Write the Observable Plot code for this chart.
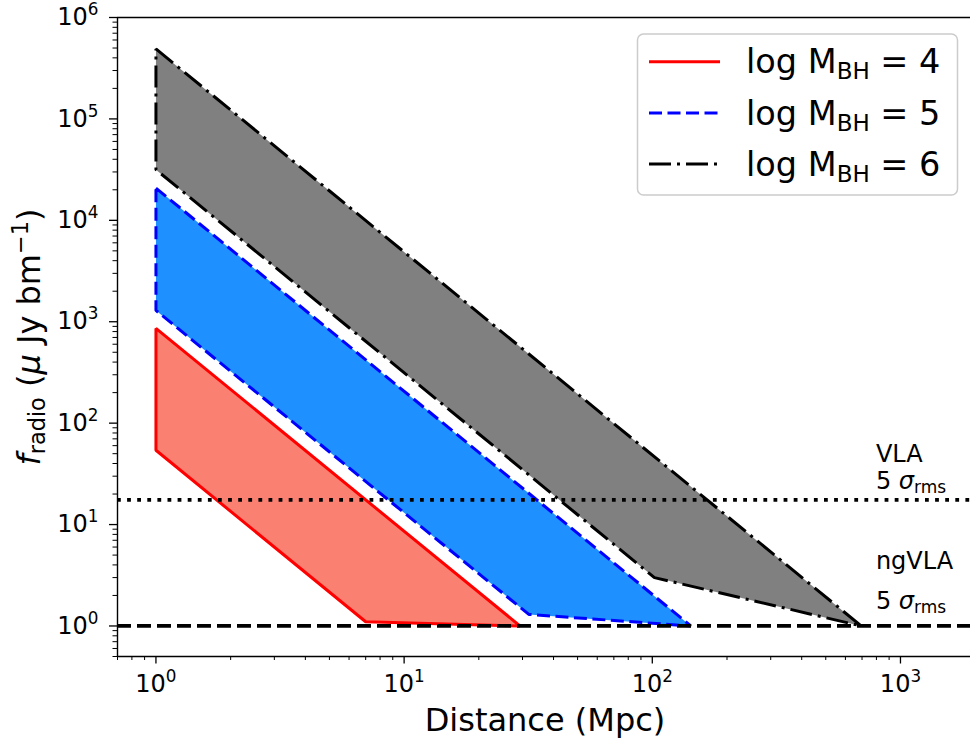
<!DOCTYPE html>
<html><head><meta charset="utf-8">
<script src="https://cdn.jsdelivr.net/npm/d3@7"></script>
<script src="https://cdn.jsdelivr.net/npm/@observablehq/plot@0.6"></script>
<style>
body{margin:0;background:#fff;overflow:hidden}
#chart{position:relative;width:970px;height:742px}
</style>
</head><body><div id="chart"></div>
<script>
// ---- data ----
const massLabels = ["4", "5", "6"];
// polygon vertices (distance in Mpc, radio flux in μJy/beam), going round each band
const distM4 = [1, 29.3, 7.0, 1];
const fluxM4 = [860, 1.0, 1.1, 54];
const distM5 = [1, 143, 31.8, 1];
const fluxM5 = [20800, 1.0, 1.3, 1292];
const distM6 = [1, 695, 102, 1];
const fluxM6 = [490000, 1.0, 3.0, 31600];
const vlaLimit = 17.5;
const ngvlaLimit = 1.0;
const xDomain = [0.7, 1915];
const yDomain = [0.5, 1e6];
const xMajorTicks = [1, 10, 100, 1000];
const xMinorTicks = [0.7, 0.8, 0.9, 2, 3, 4, 5, 6, 7, 8, 9, 20, 30, 40, 50, 60, 70, 80, 90, 200, 300, 400, 500, 600, 700, 800, 900];
const yMajorTicks = [1, 10, 100, 1e3, 1e4, 1e5, 1e6];
const yMinorTicks = [0.5, 0.6, 0.7, 0.8, 0.9,
  2,3,4,5,6,7,8,9, 20,30,40,50,60,70,80,90, 200,300,400,500,600,700,800,900,
  2e3,3e3,4e3,5e3,6e3,7e3,8e3,9e3, 2e4,3e4,4e4,5e4,6e4,7e4,8e4,9e4, 2e5,3e5,4e5,5e5,6e5,7e5,8e5,9e5];
const annotX = 800;
const annotVLA = [{text: "VLA", y: 41}, {text: "5 σ|rms", y: 22}];
const annotNG = [{text: "ngVLA", y: 3.58}, {text: "5 σ|rms", y: 1.45}];

// ---- styles ----
const bandStyles = [
  {fill: "#FA8072", stroke: "#FF0000", dash: null},
  {fill: "#1E90FF", stroke: "#0000FF", dash: "13,5.5"},
  {fill: "#808080", stroke: "#000000", dash: "22,6,3,6"}
];
const bands = [[distM4, fluxM4], [distM5, fluxM5], [distM6, fluxM6]].map(([d, f], i) => ({
  data: d.map((v, j) => ({d: v, f: f[j]})), ...bandStyles[i]
}));

const supFmt = d => "10^" + Math.round(Math.log10(d));

const plot = Plot.plot({
  width: 970, height: 742,
  marginLeft: 117, marginRight: 0, marginTop: 17, marginBottom: 86,
  style: {fontFamily: "DejaVu Sans", background: "white", color: "black", overflow: "visible"},
  x: {type: "log", domain: xDomain},
  y: {type: "log", domain: yDomain},
  marks: [
    ...bands.map(b => Plot.line(b.data, {
      x: "d", y: "f", curve: "linear-closed", fill: b.fill, stroke: b.stroke,
      strokeWidth: 3, strokeDasharray: b.dash, strokeLinecap: "butt", strokeLinejoin: "miter"
    })),
    Plot.ruleY([vlaLimit], {stroke: "black", strokeWidth: 3.8, strokeDasharray: "3.8,6.3"}),
    Plot.ruleY([ngvlaLimit], {stroke: "black", strokeWidth: 3.8, strokeDasharray: "14,6"}),
    Plot.axisX(xMajorTicks, {tickSize: 7.5, tickPadding: 11, fontSize: 24, tickFormat: supFmt, label: null, strokeWidth: 1.3}),
    Plot.axisX(xMinorTicks, {tickSize: 4, tickFormat: () => "", label: null, strokeWidth: 1}),
    Plot.axisY(yMajorTicks, {tickSize: 8, tickPadding: 11, fontSize: 24, tickFormat: supFmt, label: null, strokeWidth: 1.3}),
    Plot.axisY(yMinorTicks, {tickSize: 4.5, tickFormat: () => "", label: null, strokeWidth: 1}),
    Plot.ruleX([xDomain[0]], {strokeWidth: 1.4}),
    Plot.ruleY([yDomain[0]], {strokeWidth: 1.4}),
    Plot.ruleY([yDomain[1]], {strokeWidth: 1.4})
  ]
});
document.getElementById("chart").appendChild(plot);

const NS = "http://www.w3.org/2000/svg";
const svg = plot.tagName.toLowerCase() === "svg" ? plot : plot.querySelector("svg");
// superscript tick labels
svg.querySelectorAll('g[aria-label="x-axis tick label"] text, g[aria-label="y-axis tick label"] text').forEach(t => {
  const m = t.textContent.match(/^10\^(-?\d+)$/);
  if (!m) return;
  t.textContent = "";
  const a = document.createElementNS(NS, "tspan"); a.textContent = "10"; t.appendChild(a);
  const b = document.createElementNS(NS, "tspan"); b.textContent = m[1];
  b.setAttribute("font-size", "0.7em"); b.setAttribute("dy", "-10"); t.appendChild(b);
});

const S = d3.select(svg);
const sx = v => plot.scale("x").apply(v);
const sy = v => plot.scale("y").apply(v);
const FF = "DejaVu Sans";

// axis labels
S.append("text").attr("x", 545).attr("y", 731).attr("text-anchor", "middle")
  .attr("font-family", FF).attr("font-size", 32).text("Distance (Mpc)");
const yl = S.append("text").attr("transform", "translate(40,337) rotate(-90)").attr("text-anchor", "middle")
  .attr("font-family", FF).attr("font-size", 32);
yl.append("tspan").attr("font-style", "italic").text("f");
yl.append("tspan").attr("font-size", 22.4).attr("dy", 5).text("radio");
yl.append("tspan").attr("dy", -5).text(" (");
yl.append("tspan").attr("font-style", "italic").text("μ");
yl.append("tspan").text(" Jy bm");
yl.append("tspan").attr("font-size", 22.4).attr("dy", -12).text("−1");
yl.append("tspan").attr("dy", 12).text(")");

// annotations
function annot(lines) {
  lines.forEach(l => {
    const t = S.append("text").attr("x", sx(annotX)).attr("y", sy(l.y)).attr("text-anchor", "start")
      .attr("font-family", FF).attr("font-size", 24);
    const [main, sub] = l.text.split("|");
    if (sub) {
      const [n, g] = main.split(" ");
      t.append("tspan").text(n + " ");
      t.append("tspan").attr("font-style", "italic").text(g);
      t.append("tspan").attr("font-size", 17).attr("dy", 4).text(sub);
    } else t.text(main);
  });
}
annot(annotVLA);
annot(annotNG);

// legend
const lg = S.append("g");
lg.append("rect").attr("x", 637.5).attr("y", 34).attr("width", 320).attr("height", 161).attr("rx", 6)
  .attr("fill", "white").attr("fill-opacity", 0.8).attr("stroke", "#cccccc").attr("stroke-width", 1.5);
massLabels.forEach((m, i) => {
  const y = 61.7 + i * 51.2;
  lg.append("line").attr("x1", 649).attr("x2", 720).attr("y1", y).attr("y2", y)
    .attr("stroke", bandStyles[i].stroke).attr("stroke-width", 3)
    .attr("stroke-dasharray", bandStyles[i].dash).attr("stroke-linecap", "butt");
  const t = lg.append("text").attr("x", 746).attr("y", y + 11.6).attr("text-anchor", "start")
    .attr("font-family", FF).attr("font-size", 33.5);
  t.append("tspan").text("log M");
  t.append("tspan").attr("font-size", 23).attr("dy", 6).text("BH");
  t.append("tspan").attr("dy", -6).text(" = " + m);
});
</script>
</body></html>
